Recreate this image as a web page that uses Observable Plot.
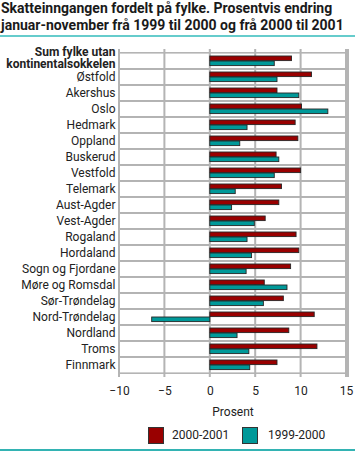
<!DOCTYPE html>
<html>
<head>
<meta charset="utf-8">
<script src="https://cdn.jsdelivr.net/npm/d3@7"></script>
<script src="https://cdn.jsdelivr.net/npm/@observablehq/plot@0.6"></script>
<style>
  html, body { margin: 0; padding: 0; background: #fff; }
  body { width: 355px; height: 455px; overflow: hidden; font-family: Roboto, "Open Sans", sans-serif; color: #1a1a1a; }
  #title { height: 37px; border-bottom: 2px solid #66cccc; font-weight: bold; font-size: 14px; line-height: 16.5px; padding: 0 0 0 1px; box-sizing: border-box; white-space: nowrap; letter-spacing: 0; }
  #legend { height: 32px; border-bottom: 2px solid #33b3b3; box-sizing: border-box; position: relative; font-size: 12px; }
  .sw { position: absolute; top: 8px; width: 14px; height: 15px; border: 1px solid #333; }
  .lt { position: absolute; top: 8px; line-height: 16px; color: #222; }
  svg { display: block; }
</style>
</head>
<body>
<div id="title">Skatteinngangen fordelt på fylke. Prosentvis endring<br>januar-november frå 1999 til 2000 og frå 2000 til 2001</div>
<div id="chart"></div>
<div id="legend"></div>
<script>
const categories = ["Sum fylke utan\nkontinentalsokkelen","Østfold","Akershus","Oslo","Hedmark","Oppland","Buskerud","Vestfold","Telemark","Aust-Agder","Vest-Agder","Rogaland","Hordaland","Sogn og Fjordane","Møre og Romsdal","Sør-Trøndelag","Nord-Trøndelag","Nordland","Troms","Finnmark"];
const series = ["2000-2001", "1999-2000"];
const values2000_2001 = [9.0, 11.2, 7.4, 10.1, 9.4, 9.7, 7.3, 10.0, 7.9, 7.6, 6.1, 9.5, 9.8, 8.9, 6.0, 8.1, 11.5, 8.7, 11.8, 7.4];
const values1999_2000 = [7.1, 7.4, 9.8, 13.0, 4.1, 3.3, 7.6, 7.1, 2.8, 2.4, 4.9, 4.1, 4.6, 4.0, 8.5, 5.9, -6.4, 3.0, 4.3, 4.4];
const xTicks = [-10, -5, 0, 5, 10, 15];
const colors = ["#990000", "#009999"];
const gridColor = "#b4b4b4";

const rowsA = categories.map((c, i) => ({fylke: c, value: values2000_2001[i]}));
const rowsB = categories.map((c, i) => ({fylke: c, value: values1999_2000[i]}));

const W = 355, H = 382, MT = 12, MB = 42, ML = 119, MR = 9;
const bw = (H - MT - MB) / categories.length;

const chart = Plot.plot({
  width: W,
  height: H,
  marginTop: MT,
  marginBottom: MB,
  marginLeft: ML,
  marginRight: MR,
  style: {fontFamily: "Roboto, sans-serif", fontSize: "12px", color: "#222", background: "#fff"},
  x: {domain: [-10, 15], ticks: xTicks, tickSize: 0, tickPadding: 9, label: "Prosent", labelAnchor: "center", labelArrow: "none", labelOffset: 38},
  y: {domain: categories, paddingInner: 0, paddingOuter: 0, label: null, tickSize: 0, tickPadding: 4},
  marks: [
    // vertical gridlines and left/right border as filled thin rects
    Plot.rect(xTicks, {x1: d => d, x2: d => d, insetLeft: -1, insetRight: -1, fill: gridColor}),
    Plot.rect([15], {x1: d => d, x2: d => d, insetLeft: 0, insetRight: -3, fill: gridColor}),
    // row separators (top and bottom of each band)
    Plot.barX(categories, {y: d => d, x1: -10, x2: 15, fill: gridColor, insetTop: -1, insetBottom: bw - 1}),
    Plot.barX(categories, {y: d => d, x1: -10, x2: 15, fill: gridColor, insetTop: bw - 1, insetBottom: -1}),
    Plot.barX(rowsA, {y: "fylke", x: "value", fill: colors[0], stroke: "#262626", strokeWidth: 0.9, insetTop: 3, insetBottom: bw - 8}),
    Plot.barX(rowsB, {y: "fylke", x: "value", fill: colors[1], stroke: "#262626", strokeWidth: 0.9, insetTop: 8, insetBottom: bw - 13})
  ]
});
document.getElementById("chart").appendChild(chart);

// make strokes explicit on each child element
chart.querySelectorAll("g[stroke]").forEach(g => {
  const s = g.getAttribute("stroke"), w = g.getAttribute("stroke-width");
  g.querySelectorAll("line, rect, path").forEach(el => {
    if (!el.getAttribute("stroke")) el.setAttribute("stroke", s);
    if (w && !el.getAttribute("stroke-width")) el.setAttribute("stroke-width", w);
  });
});

const yTexts = chart.querySelectorAll("g[aria-label='y-axis tick label'] text");
if (yTexts.length) {
  yTexts[0].setAttribute("font-weight", "bold");
  yTexts[0].setAttribute("transform", (yTexts[0].getAttribute("transform") || "") + " translate(0,-3)");
}

const legend = document.getElementById("legend");
const pos = [[148, 172], [242, 268]];
series.forEach((s, i) => {
  const sw = document.createElement("div");
  sw.className = "sw"; sw.style.left = pos[i][0] + "px"; sw.style.background = colors[i];
  const t = document.createElement("div");
  t.className = "lt"; t.style.left = pos[i][1] + "px"; t.textContent = s;
  legend.appendChild(sw); legend.appendChild(t);
});
</script>
</body>
</html>
